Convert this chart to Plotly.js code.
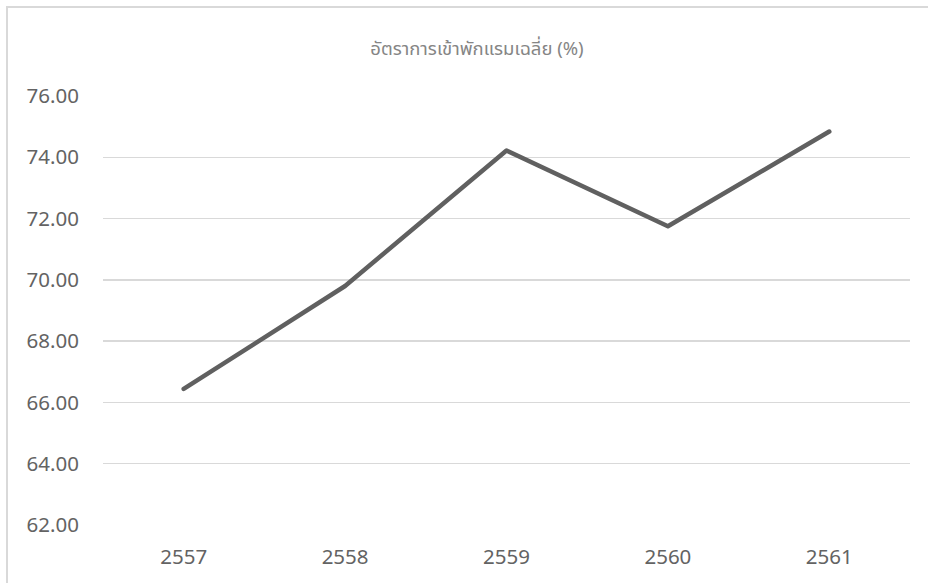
<!DOCTYPE html>
<html>
<head>
<meta charset="utf-8">
<script src="https://cdn.plot.ly/plotly-3.0.1.min.js"></script>
<style>
  html, body { margin: 0; padding: 0; background: #ffffff; }
  #wrap { position: relative; width: 928px; height: 583px; overflow: hidden; }
  #chart { position: absolute; left: 0; top: 0; width: 928px; height: 583px; }
  #frame { position: absolute; left: 6px; top: 6px; width: 940px; height: 600px;
           border-left: 2px solid #d9d9d9; border-top: 2px solid #d9d9d9; pointer-events: none; }
  .js-line { stroke-linecap: round !important; stroke-linejoin: round !important; }
</style>
</head>
<body>
<div id="wrap">
  <div id="chart"></div>
  <div id="frame"></div>
</div>
<script>
// Average hotel occupancy rate by Buddhist-era year
const years = ['2557', '2558', '2559', '2560', '2561'];
const occupancy = [66.44, 69.80, 74.22, 71.75, 74.84];
const yTicks = [62, 64, 66, 68, 70, 72, 74, 76];
const yTickText = ['62.00', '64.00', '66.00', '68.00', '70.00', '72.00', '74.00', '76.00'];
const chartTitle = 'อัตราการเข้าพักแรมเฉลี่ย (%)';

const trace = {
  x: years,
  y: occupancy,
  type: 'scatter',
  mode: 'lines',
  line: { color: '#606060', width: 4.5 },
  hoverinfo: 'x+y'
};

const layout = {
  width: 928,
  height: 583,
  margin: { l: 103, r: 18, t: 96, b: 58 },
  paper_bgcolor: '#ffffff',
  plot_bgcolor: '#ffffff',
  showlegend: false,
  font: { family: '"Noto Sans", "Open Sans", sans-serif', color: '#636363' },
  title: {
    text: chartTitle,
    font: { family: '"Noto Sans", "Noto Sans Thai", sans-serif', size: 18.5, color: '#858585' },
    x: 477 / 928,
    xref: 'container',
    xanchor: 'center',
    y: 1 - 49 / 583,
    yref: 'container',
    yanchor: 'middle'
  },
  xaxis: {
    type: 'category',
    range: [-0.5, years.length - 0.5],
    showgrid: false,
    zeroline: false,
    showline: false,
    ticks: '',
    tickfont: { size: 20.5, color: '#636363' },
    ticklabelstandoff: 17
  },
  yaxis: {
    range: [62, 76],
    tickvals: yTicks,
    ticktext: yTickText,
    showgrid: true,
    gridcolor: '#d9d9d9',
    gridwidth: 1.5,
    zeroline: false,
    showline: false,
    ticks: '',
    tickfont: { size: 20.5, color: '#636363' },
    ticklabelstandoff: 23
  }
};

Plotly.newPlot('chart', [trace], layout, { displayModeBar: false, staticPlot: true });
</script>
</body>
</html>
